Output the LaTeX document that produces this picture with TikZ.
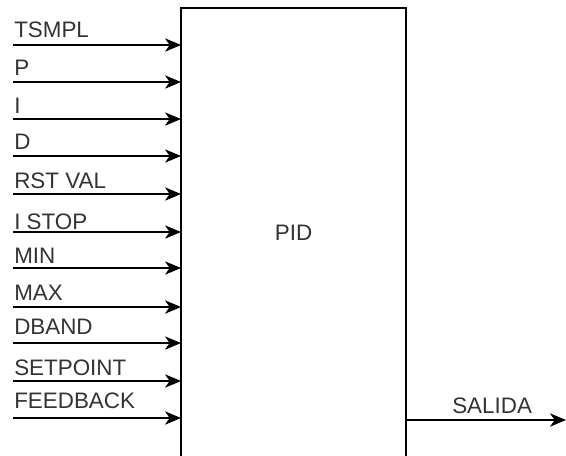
\documentclass[tikz,border=0pt]{standalone}
\usepackage{fontspec}
\setmainfont{Liberation Sans}
\usetikzlibrary{arrows.meta}
\begin{document}
\begin{tikzpicture}[x=0.75pt,y=-0.75pt,
  lbl/.style={anchor=base west, inner sep=0pt, font=\fontsize{16.8}{19}\selectfont, text=black!80},
  sig/.style={-{Stealth[length=12pt,width=10pt,inset=3.5pt]}, line width=0.8pt},
  blk/.style={draw, line width=1pt, inner sep=0pt, outer sep=0pt, minimum width=168.75pt, minimum height=337.5pt, font=\fontsize{16.8}{19}\selectfont, text=black!80}]
\useasboundingbox (0,0) rectangle (566,455);
\clip (0,0) rectangle (566,455);
\node[blk] (pid) at (293.5,233) {PID};
\foreach \name/\y/\by/\i in {TSMPL/45/37/1, P/82/75/2, I/119/113/3, D/156/149/4, RST VAL/194/188/5, I STOP/232/229/6, MIN/268/263/7, MAX/307/300/8, DBAND/343/334/9, SETPOINT/381/375/10, FEEDBACK/418/408/11} {
  \coordinate (in\i) at (13,\y);
  \node[lbl] (l\i) at (14,\by) {\name};
  \draw[sig] (in\i) -- (in\i -| pid.west);
}
\coordinate (out) at (566,420);
\node[lbl] (lout) at (452,413) {SALIDA};
\draw[sig] (pid.east |- out) -- (out);
\end{tikzpicture}
\end{document}
